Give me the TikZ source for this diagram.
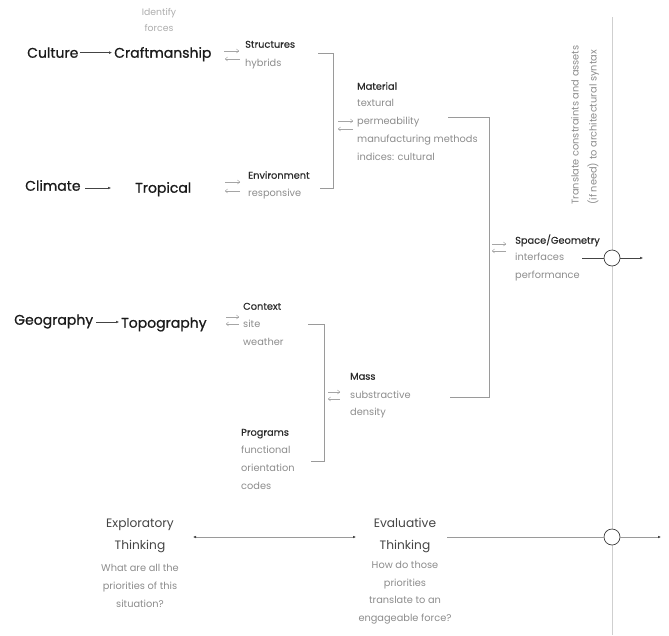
\documentclass[tikz,border=0pt]{standalone}
\usepackage{fontspec}
\setmainfont{Poppins}
\newfontfamily\medfont{Poppins}[FakeBold=0.8]
\newfontfamily\semfont{Poppins}[FakeBold=0.45]
\usetikzlibrary{arrows.meta,calc}
\definecolor{ink}{HTML}{1A1A1A}
\definecolor{hdr}{HTML}{2A2A2A}
\definecolor{gr}{HTML}{8C8C8C}
\definecolor{lgr}{HTML}{ADADAD}
\definecolor{brk}{HTML}{9A9A9A}
\definecolor{vln}{HTML}{CFCFCF}
\definecolor{pair}{HTML}{A5A5A5}
\definecolor{thk}{HTML}{444444}
\tikzset{
  mytip/.tip={Latex[length=3pt,width=2.6pt,color=thk]},
  txt/.style={inner sep=0pt, anchor=mid west},
  big/.style={txt, text=ink, font=\medfont\fontsize{14}{16}\selectfont},
  head/.style={txt, text=hdr, font=\semfont\fontsize{9.8}{11}\selectfont},
  item/.style={txt, text=gr, font=\fontsize{9.8}{11}\selectfont},
  note/.style={inner sep=0pt, anchor=mid, text=lgr, font=\fontsize{9.3}{10}\selectfont},
  think/.style={inner sep=0pt, anchor=mid, text=thk, font=\fontsize{12.2}{14}\selectfont},
  quest/.style={inner sep=0pt, anchor=mid, text=gr, font=\fontsize{9.8}{11}\selectfont},
  mainarrow/.style={draw=thk, line width=0.4pt, -{mytip}},
  pairline/.style={draw=pair, line width=0.5pt, -{To[length=2.6pt,width=4.2pt]}},
  bracket/.style={draw=brk, line width=0.6pt},
  axis/.style={draw=vln, line width=0.6pt},
  flow/.style={draw=brk, line width=0.5pt},
  hub/.style={circle, draw=ink!85, line width=0.7pt, fill=white, minimum size=16pt, inner sep=0pt}
}
\begin{document}
\begin{tikzpicture}[x=1pt,y=-1pt]
\useasboundingbox (0,0) rectangle (669,635);

% vertical axis
\coordinate (axtop) at (612,17);
\coordinate (axbot) at (612,635);
\draw[axis] (axtop) -- (axbot);

% rotated note
\node[rotate=90, inner sep=0pt, anchor=mid west, text=gr, font=\fontsize{9.8}{11}\selectfont] (tr1) at (576,205) {Translate constraints and assets};
\node[rotate=90, inner sep=0pt, anchor=mid west, text=gr, font=\fontsize{9.8}{11}\selectfont] (tr2) at (594,205) {(if need) to architectural syntax};

% row 1
\node[note] (ident) at (159,13) {Identify};
\node[note] (forces) at (159,29) {forces};
\node[big] (culture) at (27,55) {Culture};
\node[big] (craft) at (114,55) {Craftmanship};
\draw[mainarrow, shorten <=1pt, shorten >=2pt] (culture.east) -- (culture.east -| craft.west);
\node[head] (struct) at (245,45) {Structures};
\node[item] (hybrids) at (245,64) {hybrids};
\coordinate (p1a) at (224,51); \coordinate (p1b) at (239,51);
\coordinate (p1c) at (240,59); \coordinate (p1d) at (225,59);
\draw[pairline] (p1a) -- (p1b);
\draw[pairline] (p1c) -- (p1d);

% row 2
\node[big] (climate) at (25,188) {Climate};
\node[big] (tropical) at (135,190) {Tropical};
\coordinate (a2s) at (85,188); \coordinate (a2e) at (111,188);
\draw[mainarrow] (a2s) -- (a2e);
\node[head] (env) at (248,176) {Environment};
\node[item] (resp) at (248,194) {responsive};
\coordinate (p2a) at (225,182); \coordinate (p2b) at (240,182);
\coordinate (p2c) at (240,191); \coordinate (p2d) at (225,191);
\draw[pairline] (p2a) -- (p2b);
\draw[pairline] (p2c) -- (p2d);

% bracket 1
\coordinate (b1a) at (318,53);
\coordinate (b1b) at (333,188);
\coordinate (b1c) at (320,188);
\draw[bracket] (b1a) -| (b1b) -- (b1c);

% material
\node[head] (mat) at (357,87) {Material};
\node[item] (mat1) at (357,104) {textural};
\node[item] (mat2) at (357,122) {permeability};
\node[item] (mat3) at (357,140) {manufacturing methods};
\node[item] (mat4) at (357,158) {indices: cultural};
\coordinate (p3a) at (338,121); \coordinate (p3b) at (353,121);
\coordinate (p3c) at (353,129); \coordinate (p3d) at (338,129);
\draw[pairline] (p3a) -- (p3b);
\draw[pairline] (p3c) -- (p3d);

% bracket 2
\coordinate (b2a) at (448,117);
\coordinate (b2b) at (489,397);
\coordinate (b2c) at (450,397);
\draw[bracket] (b2a) -| (b2b) -- (b2c);

% space / geometry
\node[head] (space) at (515,241) {Space/Geometry};
\node[item] (space1) at (515,258) {interfaces};
\node[item] (space2) at (515,276) {performance};
\coordinate (p4a) at (492,244); \coordinate (p4b) at (506,244);
\coordinate (p4c) at (506,251); \coordinate (p4d) at (492,251);
\draw[pairline] (p4a) -- (p4b);
\draw[pairline] (p4c) -- (p4d);
\node[hub] (hub1) at (612,258) {};
\coordinate (l1s) at (582,258);
\coordinate (o1) at (643,258);
\draw[draw=thk, line width=0.4pt] (l1s) -- (hub1.west);
\draw[mainarrow] (hub1.east) -- (o1);

% row 3
\node[big] (geo) at (14,322) {Geography};
\node[big] (topo) at (121,325) {Topography};
\coordinate (a3s) at (96,322); \coordinate (a3e) at (119,322);
\draw[mainarrow] (a3s) -- (a3e);
\node[head] (ctx) at (243,307) {Context};
\node[item] (ctx1) at (243,325) {site};
\node[item] (ctx2) at (243,343) {weather};
\coordinate (p5a) at (226,317); \coordinate (p5b) at (239,317);
\coordinate (p5c) at (239,324); \coordinate (p5d) at (226,324);
\draw[pairline] (p5a) -- (p5b);
\draw[pairline] (p5c) -- (p5d);

% bracket 3
\coordinate (b3a) at (308,324);
\coordinate (b3b) at (324,461);
\coordinate (b3c) at (311,461);
\draw[bracket] (b3a) -| (b3b) -- (b3c);

% mass
\node[head] (mass) at (350,377) {Mass};
\node[item] (mass1) at (350,396) {substractive};
\node[item] (mass2) at (350,413) {density};
\coordinate (p6a) at (328,392); \coordinate (p6b) at (340,392);
\coordinate (p6c) at (340,399); \coordinate (p6d) at (328,399);
\draw[pairline] (p6a) -- (p6b);
\draw[pairline] (p6c) -- (p6d);

% programs
\node[head] (prog) at (241,433) {Programs};
\node[item] (prog1) at (241,451) {functional};
\node[item] (prog2) at (241,469) {orientation};
\node[item] (prog3) at (241,487) {codes};

% bottom
\node[think] (expl) at (140,525) {Exploratory};
\node[think] (expl2) at (140,547) {Thinking};
\node[quest] (q1) at (140,569) {What are all the};
\node[quest] (q2) at (140,587) {priorities of this};
\node[quest] (q3) at (140,605) {situation?};

\node[think] (eval) at (405,525) {Evaluative};
\node[think] (eval2) at (405,547) {Thinking};
\node[quest] (e1) at (405,566) {How do those};
\node[quest] (e2) at (405,584) {priorities};
\node[quest] (e3) at (405,601) {translate to an};
\node[quest] (e4) at (405,619) {engageable force?};

\coordinate (d1) at (193,537); \coordinate (d2) at (356,537);
\draw[draw=brk, line width=0.5pt, {mytip}-{mytip}] (d1) -- (d2);

\node[hub] (hub2) at (612,537) {};
\coordinate (l2s) at (447,537);
\coordinate (o2) at (661,537);
\draw[flow] (l2s) -- (hub2.west);
\draw[flow, -{mytip}] (hub2.east) -- (o2);
\end{tikzpicture}
\end{document}
